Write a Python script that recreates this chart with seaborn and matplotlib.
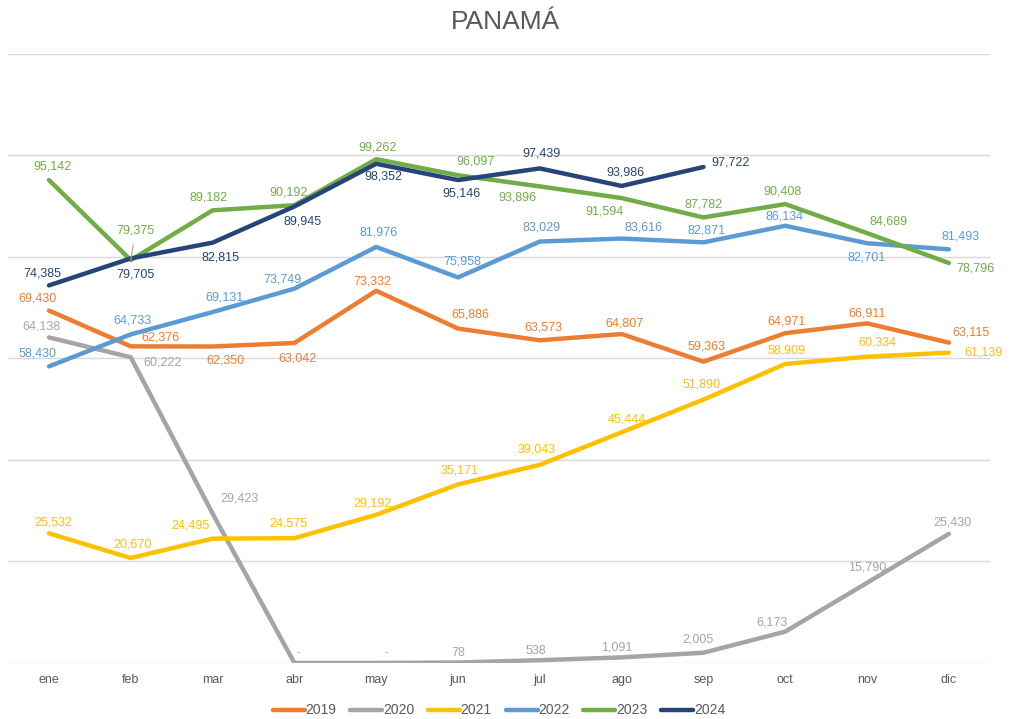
import numpy as np
import pandas as pd
import seaborn as sns
import matplotlib.pyplot as plt

meses = ["ene", "feb", "mar", "abr", "may", "jun", "jul", "ago", "sep", "oct", "nov", "dic"]

v2019 = [69430, 62376, 62350, 63042, 73332, 65886, 63573, 64807, 59363, 64971, 66911, 63115]
v2020 = [64138, 60222, 29423, 0, 0, 78, 538, 1091, 2005, 6173, 15790, 25430]
v2021 = [25532, 20670, 24495, 24575, 29192, 35171, 39043, 45444, 51890, 58909, 60334, 61139]
v2022 = [58430, 64733, 69131, 73749, 81976, 75958, 83029, 83616, 82871, 86134, 82701, 81493]
v2023 = [95142, 79375, 89182, 90192, 99262, 96097, 93896, 91594, 87782, 90408, 84689, 78796]
v2024 = [74385, 79705, 82815, 89945, 98352, 95146, 97439, 93986, 97722]

series = {"2019": v2019, "2020": v2020, "2021": v2021,
          "2022": v2022, "2023": v2023, "2024": v2024}
colores = {"2019": "#ED7D31", "2020": "#A5A5A5", "2021": "#FFC000",
           "2022": "#5B9BD5", "2023": "#70AD47", "2024": "#264478"}

# posicion de etiquetas (dx, dy en pixeles)
offs = {
    "2019": [(-11, 12), (30, 9), (13, -14), (3, -16), (-4, 9), (12, 14), (4, 13), (3, 11), (3, 15), (1, 12), (0, 10), (22, 10)],
    "2020": [(-8, 11), (32, -5), (27, 15), (4, 10), (10, 10), (0, 10), (-4, 9), (-5, 10), (-6, 13), (-13, 9), (0, 15), (3, 11)],
    "2021": [(4, 11), (2, 14), (-22, 13), (-6, 15), (-4, 11), (2, 14), (-3, 15), (5, 13), (-2, 15), (1, 13), (10, 14), (35, 0)],
    "2022": [(-11, 13), (2, 14), (12, 15), (-12, 9), (2, 14), (4, 16), (2, 14), (22, 11), (3, 12), (-1, 9), (0, -14), (12, 13)],
    "2023": [(4, 14), (5, 30), (-4, 13), (-6, 13), (1, 12), (18, 14), (-22, -11), (-17, -13), (0, 13), (-3, 13), (21, 12), (27, -5)],
    "2024": [(-7, 12), (5, -16), (8, -15), (8, -15), (7, -13), (3, -13), (2, 15), (4, 13), (27, 4)],
}

rows = []
for anio, vals in series.items():
    for i, v in enumerate(vals):
        rows.append({"mes": i, "valor": v, "anio": anio})
df = pd.DataFrame(rows)

sns.set_theme(style="white")
plt.rcParams["font.family"] = ["Liberation Sans", "DejaVu Sans"]

fig = plt.figure(figsize=(10.1, 7.19), dpi=100)
ax = fig.add_axes([0.008, 0.078, 0.972, 0.847])

for y in range(0, 120001, 20000):
    ax.axhline(y, color="#D9D9D9", lw=1, zorder=0)

sns.lineplot(data=df, x="mes", y="valor", hue="anio", palette=colores,
             lw=3.2, ax=ax, solid_capstyle="round", solid_joinstyle="round")

for anio, vals in series.items():
    for i, v in enumerate(vals):
        txt = "-" if v == 0 else f"{v:,}"
        dx, dy = offs[anio][i]
        kw = {}
        if anio == "2023" and i == 1:
            kw["arrowprops"] = dict(arrowstyle="-", color="#A5A5A5", lw=0.8, shrinkA=4, shrinkB=0)
        ax.annotate(txt, (i, v), xytext=(dx, dy), textcoords="offset pixels",
                    ha="center", va="center", fontsize=9, color=colores[anio], **kw)

ax.set_xlim(-0.5, 11.5)
ax.set_ylim(0, 120000)
ax.set_xticks(range(12))
ax.set_xticklabels(meses)
ax.set_yticks([])
ax.tick_params(axis="x", length=0, labelsize=9, labelcolor="#595959", pad=8)
ax.set_xlabel("")
ax.set_ylabel("")
sns.despine(ax=ax, left=True, bottom=True)

h, l = ax.get_legend_handles_labels()
ax.legend(h, l, loc="lower center", bbox_to_anchor=(0.5, -0.11), ncol=6,
          frameon=False, fontsize=10, handlelength=2.3, columnspacing=1.0,
          handletextpad=0.05, labelcolor="#595959")

fig.text(0.5, 0.97, "PANAMÁ", ha="center", va="center", fontsize=19, color="#595959",
         family=["Liberation Sans Narrow", "Liberation Sans"])

fig.savefig("out.png", dpi=100)
